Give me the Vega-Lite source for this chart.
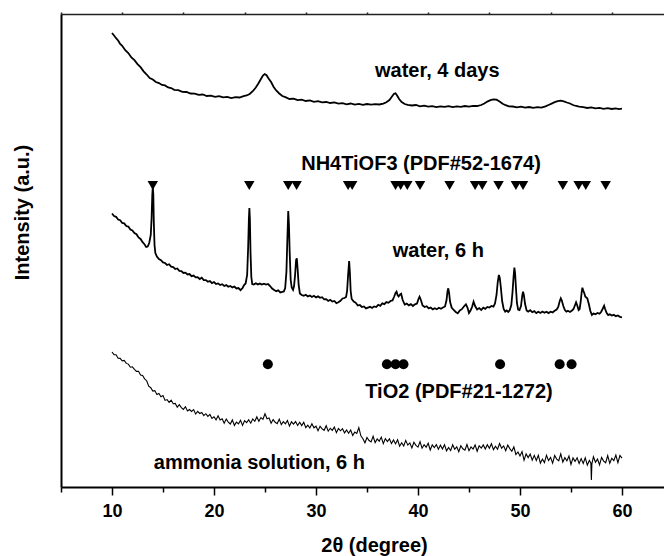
{
  "$schema": "https://vega.github.io/schema/vega-lite/v6.json",
  "width": 603,
  "height": 473,
  "autosize": {"type": "none"},
  "padding": {"left": 61, "top": 14, "right": 0, "bottom": 69},
  "background": "white",
  "config": {
    "view": {"stroke": null},
    "font": "Liberation Sans",
    "axis": {"grid": false}
  },
  "resolve": {"axis": {"x": "independent"}},
  "datasets": {
    "w4d": [
      {"t":10.0,"i":454.0},{"t":10.2,"i":451.5},{"t":10.4,"i":448.8},{"t":10.6,"i":446.5},{"t":10.8,"i":443.0},
      {"t":11.0,"i":441.2},{"t":11.3,"i":436.8},{"t":11.6,"i":434.0},{"t":11.9,"i":429.6},{"t":12.2,"i":426.8},
      {"t":12.5,"i":422.9},{"t":12.8,"i":419.8},{"t":13.1,"i":415.6},{"t":13.4,"i":412.5},{"t":13.7,"i":409.0},
      {"t":14.0,"i":407.5},{"t":14.3,"i":405.0},{"t":14.6,"i":403.9},{"t":14.9,"i":402.0},{"t":15.2,"i":401.6},
      {"t":15.5,"i":399.5},{"t":15.8,"i":399.0},{"t":16.1,"i":397.2},{"t":16.5,"i":396.8},{"t":16.9,"i":395.2},
      {"t":17.3,"i":395.0},{"t":17.7,"i":393.5},{"t":18.1,"i":393.4},{"t":18.5,"i":392.2},{"t":18.9,"i":392.5},
      {"t":19.3,"i":391.0},{"t":19.7,"i":391.4},{"t":20.1,"i":390.2},{"t":20.5,"i":390.8},{"t":20.9,"i":389.6},
      {"t":21.3,"i":390.1},{"t":21.7,"i":388.9},{"t":22.1,"i":389.8},{"t":22.5,"i":389.5},{"t":22.9,"i":390.8},
      {"t":23.2,"i":391.5},{"t":23.5,"i":393.0},{"t":23.8,"i":395.8},{"t":24.1,"i":399.5},{"t":24.35,"i":403.5},
      {"t":24.6,"i":408.0},{"t":24.8,"i":411.5},{"t":24.97,"i":413.0},{"t":25.15,"i":411.8},{"t":25.35,"i":408.5},
      {"t":25.6,"i":405.0},{"t":25.85,"i":400.0},{"t":26.1,"i":396.5},{"t":26.4,"i":393.5},{"t":26.7,"i":391.0},
      {"t":27.0,"i":389.8},{"t":27.4,"i":388.0},{"t":27.8,"i":388.4},{"t":28.2,"i":386.9},{"t":28.6,"i":387.3},
      {"t":29.0,"i":386.0},{"t":29.4,"i":386.6},{"t":29.8,"i":385.2},{"t":30.2,"i":385.8},{"t":30.6,"i":384.6},
      {"t":31.0,"i":385.0},{"t":31.4,"i":384.0},{"t":31.8,"i":384.6},{"t":32.2,"i":383.4},{"t":32.6,"i":383.9},
      {"t":33.0,"i":382.7},{"t":33.4,"i":383.5},{"t":33.8,"i":382.4},{"t":34.2,"i":383.1},{"t":34.6,"i":382.2},
      {"t":35.0,"i":383.0},{"t":35.4,"i":382.4},{"t":35.8,"i":382.9},{"t":36.2,"i":382.5},{"t":36.6,"i":383.4},
      {"t":36.9,"i":384.8},{"t":37.2,"i":387.0},{"t":37.45,"i":390.5},{"t":37.65,"i":393.2},{"t":37.8,"i":393.7},
      {"t":37.95,"i":391.5},{"t":38.15,"i":388.0},{"t":38.4,"i":385.0},{"t":38.7,"i":383.0},{"t":39.0,"i":382.2},
      {"t":39.4,"i":381.5},{"t":39.8,"i":382.0},{"t":40.2,"i":380.6},{"t":40.6,"i":381.3},{"t":41.0,"i":380.3},
      {"t":41.4,"i":380.9},{"t":41.8,"i":379.8},{"t":42.2,"i":380.6},{"t":42.6,"i":380.1},{"t":43.0,"i":380.9},
      {"t":43.4,"i":379.9},{"t":43.8,"i":380.7},{"t":44.2,"i":380.2},{"t":44.6,"i":381.0},{"t":45.0,"i":380.4},
      {"t":45.4,"i":381.2},{"t":45.8,"i":381.0},{"t":46.2,"i":382.0},{"t":46.5,"i":383.5},{"t":46.8,"i":385.4},
      {"t":47.1,"i":386.8},{"t":47.4,"i":387.6},{"t":47.7,"i":387.3},{"t":48.0,"i":385.5},{"t":48.3,"i":383.2},
      {"t":48.6,"i":381.8},{"t":48.9,"i":380.6},{"t":49.3,"i":380.5},{"t":49.7,"i":379.7},{"t":50.1,"i":380.3},
      {"t":50.5,"i":379.4},{"t":50.9,"i":380.0},{"t":51.3,"i":379.2},{"t":51.7,"i":379.8},{"t":52.1,"i":379.4},
      {"t":52.5,"i":380.6},{"t":52.8,"i":382.0},{"t":53.1,"i":383.4},{"t":53.4,"i":384.8},{"t":53.7,"i":385.8},
      {"t":54.0,"i":386.3},{"t":54.3,"i":385.7},{"t":54.6,"i":384.5},{"t":54.9,"i":383.5},{"t":55.2,"i":382.0},
      {"t":55.5,"i":381.0},{"t":55.8,"i":380.4},{"t":56.2,"i":379.9},{"t":56.6,"i":379.0},{"t":57.0,"i":379.6},
      {"t":57.4,"i":378.7},{"t":57.8,"i":379.1},{"t":58.2,"i":378.2},{"t":58.6,"i":378.8},{"t":59.0,"i":378.0},
      {"t":59.4,"i":378.6},{"t":59.7,"i":377.9},{"t":60.0,"i":378.3}
    ],
    "w6h": [
      {"t":10.0,"i":273.5},{"t":10.2,"i":271.0},{"t":10.4,"i":270.2},{"t":10.6,"i":267.5},{"t":10.8,"i":266.8},
      {"t":11.0,"i":264.0},{"t":11.2,"i":263.6},{"t":11.4,"i":261.0},{"t":11.6,"i":260.4},{"t":11.8,"i":257.5},
      {"t":12.0,"i":256.6},{"t":12.2,"i":254.0},{"t":12.4,"i":252.8},{"t":12.6,"i":249.5},{"t":12.8,"i":248.0},
      {"t":13.0,"i":244.8},{"t":13.2,"i":242.5},{"t":13.35,"i":240.0},{"t":13.5,"i":240.5},{"t":13.65,"i":244.0},
      {"t":13.8,"i":252.0},{"t":13.88,"i":268.0},{"t":13.95,"i":292.0},{"t":14.0,"i":300.0},{"t":14.05,"i":293.0},
      {"t":14.1,"i":265.0},{"t":14.17,"i":242.0},{"t":14.25,"i":234.0},{"t":14.4,"i":230.5},{"t":14.6,"i":228.0},
      {"t":14.8,"i":226.9},{"t":15.0,"i":224.6},{"t":15.2,"i":224.0},{"t":15.4,"i":222.0},{"t":15.6,"i":222.8},
      {"t":15.8,"i":220.4},{"t":16.0,"i":219.9},{"t":16.2,"i":218.0},{"t":16.4,"i":218.5},{"t":16.6,"i":216.2},
      {"t":16.8,"i":216.0},{"t":17.0,"i":214.0},{"t":17.2,"i":214.4},{"t":17.4,"i":212.5},{"t":17.6,"i":212.9},
      {"t":17.8,"i":210.8},{"t":18.0,"i":211.4},{"t":18.2,"i":209.6},{"t":18.4,"i":209.9},{"t":18.6,"i":208.0},
      {"t":18.8,"i":209.3},{"t":19.0,"i":207.0},{"t":19.2,"i":206.9},{"t":19.4,"i":205.2},{"t":19.6,"i":206.0},
      {"t":19.8,"i":203.9},{"t":20.0,"i":205.0},{"t":20.2,"i":203.0},{"t":20.4,"i":203.6},{"t":20.6,"i":202.0},
      {"t":20.8,"i":202.8},{"t":21.0,"i":201.0},{"t":21.2,"i":201.9},{"t":21.4,"i":200.2},{"t":21.6,"i":201.0},
      {"t":21.8,"i":199.6},{"t":22.0,"i":200.5},{"t":22.2,"i":198.5},{"t":22.4,"i":198.9},{"t":22.6,"i":196.8},
      {"t":22.8,"i":199.0},{"t":22.95,"i":202.0},{"t":23.1,"i":203.5},{"t":23.25,"i":212.0},{"t":23.35,"i":240.0},
      {"t":23.42,"i":268.0},{"t":23.47,"i":279.0},{"t":23.52,"i":268.0},{"t":23.58,"i":235.0},{"t":23.66,"i":210.0},
      {"t":23.75,"i":203.0},{"t":23.9,"i":202.5},{"t":24.1,"i":203.8},{"t":24.3,"i":202.6},{"t":24.5,"i":203.4},
      {"t":24.7,"i":202.4},{"t":24.9,"i":203.3},{"t":25.1,"i":202.5},{"t":25.3,"i":203.0},{"t":25.5,"i":201.0},
      {"t":25.7,"i":198.5},{"t":25.9,"i":197.0},{"t":26.1,"i":195.8},{"t":26.3,"i":196.6},{"t":26.5,"i":194.6},
      {"t":26.7,"i":195.2},{"t":26.85,"i":195.6},{"t":26.98,"i":199.0},{"t":27.1,"i":215.0},{"t":27.2,"i":250.0},
      {"t":27.28,"i":276.0},{"t":27.35,"i":262.0},{"t":27.42,"i":235.0},{"t":27.52,"i":207.0},{"t":27.62,"i":199.5},
      {"t":27.75,"i":197.2},{"t":27.85,"i":201.0},{"t":27.95,"i":212.0},{"t":28.05,"i":227.0},{"t":28.12,"i":228.7},
      {"t":28.2,"i":218.0},{"t":28.3,"i":202.0},{"t":28.42,"i":193.5},{"t":28.6,"i":192.0},{"t":28.8,"i":191.3},
      {"t":29.0,"i":192.2},{"t":29.2,"i":190.6},{"t":29.4,"i":191.5},{"t":29.6,"i":190.0},{"t":29.8,"i":191.2},
      {"t":30.0,"i":189.6},{"t":30.2,"i":190.6},{"t":30.4,"i":189.2},{"t":30.6,"i":189.8},{"t":30.8,"i":187.6},
      {"t":31.0,"i":187.9},{"t":31.2,"i":186.0},{"t":31.4,"i":187.2},{"t":31.6,"i":185.4},{"t":31.8,"i":186.0},
      {"t":32.0,"i":183.8},{"t":32.2,"i":184.7},{"t":32.4,"i":186.2},{"t":32.6,"i":188.5},{"t":32.8,"i":189.0},
      {"t":32.95,"i":190.0},{"t":33.05,"i":196.0},{"t":33.15,"i":212.0},{"t":33.25,"i":226.0},{"t":33.32,"i":215.0},
      {"t":33.4,"i":196.0},{"t":33.5,"i":188.0},{"t":33.7,"i":185.5},{"t":33.9,"i":184.2},{"t":34.1,"i":181.5},
      {"t":34.3,"i":182.0},{"t":34.5,"i":180.0},{"t":34.7,"i":180.6},{"t":34.9,"i":178.6},{"t":35.1,"i":179.4},
      {"t":35.3,"i":180.2},{"t":35.5,"i":179.0},{"t":35.7,"i":180.6},{"t":35.9,"i":180.0},{"t":36.1,"i":182.2},
      {"t":36.3,"i":181.2},{"t":36.5,"i":183.6},{"t":36.7,"i":182.8},{"t":36.9,"i":184.9},{"t":37.1,"i":184.2},
      {"t":37.3,"i":186.0},{"t":37.5,"i":186.6},{"t":37.65,"i":190.0},{"t":37.8,"i":194.0},{"t":37.9,"i":195.3},
      {"t":38.0,"i":192.0},{"t":38.1,"i":190.5},{"t":38.25,"i":192.5},{"t":38.35,"i":193.2},{"t":38.5,"i":187.0},
      {"t":38.7,"i":182.5},{"t":38.9,"i":183.4},{"t":39.1,"i":181.6},{"t":39.3,"i":182.8},{"t":39.5,"i":181.0},
      {"t":39.7,"i":182.6},{"t":39.9,"i":183.5},{"t":40.05,"i":188.0},{"t":40.15,"i":190.3},{"t":40.27,"i":187.5},
      {"t":40.45,"i":181.5},{"t":40.65,"i":180.0},{"t":40.85,"i":180.8},{"t":41.05,"i":178.6},{"t":41.25,"i":179.5},
      {"t":41.45,"i":177.6},{"t":41.65,"i":178.8},{"t":41.85,"i":177.8},{"t":42.05,"i":179.2},{"t":42.25,"i":178.3},
      {"t":42.45,"i":179.5},{"t":42.65,"i":180.5},{"t":42.8,"i":187.0},{"t":42.9,"i":196.0},{"t":42.97,"i":198.7},
      {"t":43.05,"i":194.0},{"t":43.15,"i":185.0},{"t":43.3,"i":179.4},{"t":43.5,"i":177.0},{"t":43.7,"i":175.0},
      {"t":43.9,"i":173.8},{"t":44.1,"i":176.5},{"t":44.3,"i":177.8},{"t":44.5,"i":180.5},{"t":44.7,"i":182.7},
      {"t":44.85,"i":179.5},{"t":45.0,"i":174.0},{"t":45.15,"i":176.5},{"t":45.3,"i":180.0},{"t":45.45,"i":185.3},
      {"t":45.6,"i":181.0},{"t":45.8,"i":177.6},{"t":46.0,"i":178.9},{"t":46.2,"i":177.0},{"t":46.4,"i":179.3},
      {"t":46.6,"i":178.2},{"t":46.8,"i":180.1},{"t":47.0,"i":179.5},{"t":47.2,"i":181.0},{"t":47.4,"i":180.3},
      {"t":47.55,"i":183.5},{"t":47.7,"i":192.0},{"t":47.82,"i":205.0},{"t":47.93,"i":212.0},{"t":48.02,"i":209.0},
      {"t":48.12,"i":200.0},{"t":48.25,"i":186.0},{"t":48.4,"i":178.0},{"t":48.55,"i":175.3},{"t":48.7,"i":176.5},
      {"t":48.85,"i":175.0},{"t":49.0,"i":177.0},{"t":49.15,"i":182.0},{"t":49.27,"i":195.0},{"t":49.37,"i":210.0},
      {"t":49.45,"i":219.5},{"t":49.52,"i":214.0},{"t":49.6,"i":200.0},{"t":49.7,"i":184.0},{"t":49.82,"i":177.5},
      {"t":49.95,"i":177.0},{"t":50.1,"i":181.0},{"t":50.22,"i":191.0},{"t":50.3,"i":195.3},{"t":50.38,"i":192.0},
      {"t":50.5,"i":183.0},{"t":50.65,"i":176.5},{"t":50.8,"i":175.3},{"t":51.0,"i":176.8},{"t":51.2,"i":174.8},
      {"t":51.4,"i":175.8},{"t":51.6,"i":173.9},{"t":51.8,"i":175.2},{"t":52.0,"i":174.0},{"t":52.2,"i":175.5},
      {"t":52.4,"i":174.2},{"t":52.6,"i":175.3},{"t":52.8,"i":173.9},{"t":53.0,"i":175.3},{"t":53.2,"i":174.6},
      {"t":53.4,"i":176.2},{"t":53.6,"i":177.5},{"t":53.75,"i":180.0},{"t":53.9,"i":186.0},{"t":54.0,"i":188.7},
      {"t":54.1,"i":186.5},{"t":54.25,"i":181.0},{"t":54.4,"i":177.0},{"t":54.55,"i":175.3},{"t":54.7,"i":176.2},
      {"t":54.9,"i":175.0},{"t":55.1,"i":176.5},{"t":55.25,"i":178.0},{"t":55.4,"i":182.0},{"t":55.5,"i":184.7},
      {"t":55.6,"i":182.0},{"t":55.75,"i":177.0},{"t":55.85,"i":178.0},{"t":55.95,"i":185.0},{"t":56.05,"i":195.0},
      {"t":56.12,"i":199.3},{"t":56.2,"i":196.5},{"t":56.3,"i":194.0},{"t":56.4,"i":190.5},{"t":56.5,"i":189.5},
      {"t":56.6,"i":188.7},{"t":56.75,"i":183.0},{"t":56.9,"i":176.0},{"t":57.05,"i":172.0},{"t":57.2,"i":173.5},
      {"t":57.4,"i":172.8},{"t":57.6,"i":174.0},{"t":57.8,"i":173.2},{"t":57.95,"i":175.0},{"t":58.1,"i":178.0},
      {"t":58.25,"i":181.3},{"t":58.35,"i":178.0},{"t":58.5,"i":174.0},{"t":58.65,"i":172.0},{"t":58.8,"i":172.8},
      {"t":59.0,"i":171.4},{"t":59.2,"i":172.2},{"t":59.4,"i":170.8},{"t":59.6,"i":171.5},{"t":59.8,"i":170.2},
      {"t":60.0,"i":169.7}
    ],
    "amm": [
      {"t":10.0,"i":135.0},{"t":10.2,"i":132.3},{"t":10.4,"i":132.3},{"t":10.6,"i":128.8},{"t":10.8,"i":128.6},
      {"t":11.0,"i":126.1},{"t":11.2,"i":126.6},{"t":11.4,"i":123.6},{"t":11.6,"i":122.9},{"t":11.8,"i":119.8},
      {"t":12.0,"i":120.2},{"t":12.2,"i":117.7},{"t":12.4,"i":115.6},{"t":12.6,"i":115.7},{"t":12.8,"i":111.9},
      {"t":13.0,"i":111.5},{"t":13.2,"i":108.2},{"t":13.4,"i":106.3},{"t":13.6,"i":100.8},{"t":13.8,"i":99.3},
      {"t":14.0,"i":95.9},{"t":14.2,"i":96.4},{"t":14.4,"i":92.5},{"t":14.6,"i":93.6},{"t":14.8,"i":90.2},
      {"t":15.0,"i":91.5},{"t":15.2,"i":86.6},{"t":15.4,"i":87.4},{"t":15.6,"i":84.7},{"t":15.8,"i":86.9},
      {"t":16.0,"i":83.3},{"t":16.2,"i":83.6},{"t":16.4,"i":79.8},{"t":16.6,"i":82.3},{"t":16.8,"i":79.4},
      {"t":17.0,"i":77.6},{"t":17.2,"i":80.3},{"t":17.4,"i":76.0},{"t":17.6,"i":77.5},{"t":17.8,"i":75.6},
      {"t":18.0,"i":77.4},{"t":18.2,"i":73.0},{"t":18.4,"i":75.6},{"t":18.6,"i":73.5},{"t":18.8,"i":74.6},
      {"t":19.0,"i":71.4},{"t":19.2,"i":73.3},{"t":19.4,"i":70.6},{"t":19.6,"i":72.6},{"t":19.8,"i":68.5},
      {"t":20.0,"i":70.2},{"t":20.2,"i":67.1},{"t":20.4,"i":71.3},{"t":20.6,"i":67.0},{"t":20.8,"i":68.3},
      {"t":21.0,"i":63.7},{"t":21.2,"i":68.0},{"t":21.4,"i":64.9},{"t":21.6,"i":63.0},{"t":21.8,"i":67.1},
      {"t":22.0,"i":61.6},{"t":22.2,"i":64.9},{"t":22.4,"i":63.2},{"t":22.6,"i":66.8},{"t":22.8,"i":61.6},
      {"t":23.0,"i":66.3},{"t":23.2,"i":64.4},{"t":23.4,"i":67.2},{"t":23.6,"i":63.8},{"t":23.8,"i":68.0},
      {"t":24.0,"i":65.7},{"t":24.2,"i":70.1},{"t":24.4,"i":65.8},{"t":24.6,"i":69.5},{"t":24.8,"i":67.7},
      {"t":25.0,"i":73.2},{"t":25.2,"i":68.3},{"t":25.4,"i":69.0},{"t":25.6,"i":63.8},{"t":25.8,"i":67.4},
      {"t":26.0,"i":64.7},{"t":26.2,"i":63.4},{"t":26.4,"i":67.9},{"t":26.6,"i":62.4},{"t":26.8,"i":65.3},
      {"t":27.0,"i":63.2},{"t":27.2,"i":66.5},{"t":27.4,"i":60.9},{"t":27.6,"i":65.2},{"t":27.8,"i":62.9},
      {"t":28.0,"i":65.4},{"t":28.2,"i":61.5},{"t":28.4,"i":64.8},{"t":28.6,"i":61.4},{"t":28.8,"i":64.7},
      {"t":29.0,"i":59.3},{"t":29.2,"i":61.9},{"t":29.4,"i":59.0},{"t":29.6,"i":63.3},{"t":29.8,"i":59.2},
      {"t":30.0,"i":60.8},{"t":30.2,"i":56.3},{"t":30.4,"i":60.8},{"t":30.6,"i":58.1},{"t":30.8,"i":56.7},
      {"t":31.0,"i":61.3},{"t":31.2,"i":55.8},{"t":31.4,"i":58.7},{"t":31.6,"i":56.6},{"t":31.8,"i":59.9},
      {"t":32.0,"i":54.3},{"t":32.2,"i":58.6},{"t":32.4,"i":56.2},{"t":32.6,"i":58.3},{"t":32.8,"i":54.1},
      {"t":33.0,"i":57.1},{"t":33.2,"i":53.7},{"t":33.4,"i":57.0},{"t":33.6,"i":51.5},{"t":33.8,"i":54.9},
      {"t":34.0,"i":53.5},{"t":34.2,"i":59.4},{"t":34.4,"i":51.2},{"t":34.6,"i":48.2},{"t":34.8,"i":44.2},
      {"t":35.0,"i":49.5},{"t":35.2,"i":46.5},{"t":35.4,"i":45.1},{"t":35.6,"i":50.7},{"t":35.8,"i":44.4},
      {"t":36.0,"i":48.1},{"t":36.2,"i":45.8},{"t":36.4,"i":49.9},{"t":36.6,"i":43.4},{"t":36.8,"i":48.4},
      {"t":37.0,"i":45.5},{"t":37.2,"i":48.2},{"t":37.4,"i":43.4},{"t":37.6,"i":47.1},{"t":37.8,"i":43.1},
      {"t":38.0,"i":47.2},{"t":38.2,"i":40.8},{"t":38.4,"i":44.2},{"t":38.6,"i":41.0},{"t":38.8,"i":46.6},
      {"t":39.0,"i":41.9},{"t":39.2,"i":44.1},{"t":39.4,"i":39.1},{"t":39.6,"i":44.8},{"t":39.8,"i":41.6},
      {"t":40.0,"i":39.9},{"t":40.2,"i":45.3},{"t":40.4,"i":38.8},{"t":40.6,"i":42.3},{"t":40.8,"i":39.8},
      {"t":41.0,"i":43.7},{"t":41.2,"i":37.0},{"t":41.4,"i":42.2},{"t":41.6,"i":39.5},{"t":41.8,"i":42.4},
      {"t":42.0,"i":37.8},{"t":42.2,"i":41.8},{"t":42.4,"i":38.0},{"t":42.6,"i":42.3},{"t":42.8,"i":36.1},
      {"t":43.0,"i":39.5},{"t":43.2,"i":36.4},{"t":43.4,"i":42.2},{"t":43.6,"i":37.7},{"t":43.8,"i":40.1},
      {"t":44.0,"i":35.3},{"t":44.2,"i":41.2},{"t":44.4,"i":38.2},{"t":44.6,"i":36.8},{"t":44.8,"i":42.5},
      {"t":45.0,"i":36.3},{"t":45.2,"i":40.1},{"t":45.4,"i":37.9},{"t":45.6,"i":42.1},{"t":45.8,"i":35.8},
      {"t":46.0,"i":41.3},{"t":46.2,"i":38.9},{"t":46.4,"i":42.1},{"t":46.6,"i":37.9},{"t":46.8,"i":42.2},
      {"t":47.0,"i":38.7},{"t":47.2,"i":43.3},{"t":47.4,"i":37.4},{"t":47.6,"i":40.8},{"t":47.8,"i":37.7},
      {"t":48.0,"i":43.4},{"t":48.2,"i":38.8},{"t":48.4,"i":41.1},{"t":48.6,"i":36.2},{"t":48.8,"i":42.0},
      {"t":49.0,"i":38.4},{"t":49.2,"i":35.7},{"t":49.4,"i":40.1},{"t":49.6,"i":32.5},{"t":49.8,"i":35.0},
      {"t":50.0,"i":31.1},{"t":50.2,"i":35.4},{"t":50.4,"i":26.8},{"t":50.6,"i":33.1},{"t":50.8,"i":29.4},
      {"t":51.0,"i":32.9},{"t":51.2,"i":26.9},{"t":51.4,"i":31.6},{"t":51.6,"i":26.6},{"t":51.8,"i":31.8},
      {"t":52.0,"i":23.9},{"t":52.2,"i":27.9},{"t":52.4,"i":24.4},{"t":52.6,"i":31.8},{"t":52.8,"i":26.4},
      {"t":53.0,"i":29.6},{"t":53.2,"i":23.9},{"t":53.4,"i":31.5},{"t":53.6,"i":27.9},{"t":53.8,"i":26.3},
      {"t":54.0,"i":33.1},{"t":54.2,"i":24.9},{"t":54.4,"i":29.3},{"t":54.6,"i":26.1},{"t":54.8,"i":30.9},
      {"t":55.0,"i":22.6},{"t":55.2,"i":29.1},{"t":55.4,"i":25.6},{"t":55.6,"i":29.2},{"t":55.8,"i":23.5},
      {"t":56.0,"i":28.4},{"t":56.2,"i":23.6},{"t":56.4,"i":29.3},{"t":56.6,"i":21.9},{"t":56.8,"i":26.5},
      {"t":56.95,"i":24.0},{"t":57.0,"i":7.0},{"t":57.05,"i":23.0},{"t":57.2,"i":30.3},{"t":57.4,"i":24.8},
      {"t":57.6,"i":27.9},{"t":57.8,"i":22.1},{"t":58.0,"i":29.6},{"t":58.2,"i":25.9},{"t":58.4,"i":24.3},
      {"t":58.6,"i":31.5},{"t":58.8,"i":23.7},{"t":59.0,"i":28.8},{"t":59.2,"i":26.4},{"t":59.4,"i":32.0},
      {"t":59.6,"i":24.3},{"t":59.8,"i":31.5},{"t":60.0,"i":28.8}
    ],
    "nh4": [
      {"t":14.0,"i":301.5},{"t":23.46,"i":301.5},{"t":27.28,"i":301.5},{"t":28.1,"i":301.5},
      {"t":33.15,"i":301.5},{"t":33.55,"i":301.5},{"t":37.8,"i":301.5},{"t":38.3,"i":301.5},
      {"t":38.95,"i":301.5},{"t":40.2,"i":301.5},{"t":43.1,"i":301.5},{"t":45.6,"i":301.5},
      {"t":46.3,"i":301.5},{"t":47.9,"i":301.5},{"t":49.6,"i":301.5},{"t":50.3,"i":301.5},
      {"t":54.2,"i":301.5},{"t":55.75,"i":301.5},{"t":56.45,"i":301.5},{"t":58.4,"i":301.5}
    ],
    "tio2": [
      {"t":25.28,"i":122.7},{"t":36.95,"i":122.7},{"t":37.8,"i":122.7},{"t":38.58,"i":122.7},
      {"t":48.05,"i":122.7},{"t":53.89,"i":122.7},{"t":55.06,"i":122.7}
    ],
    "labels": [
      {"t":41.89,"i":410,"label":"water, 4 days"},
      {"t":40.3,"i":317.5,"label":"NH4TiOF3 (PDF#52-1674)"},
      {"t":41.99,"i":229.7,"label":"water, 6 h"},
      {"t":44.02,"i":88.7,"label":"TiO2 (PDF#21-1272)"},
      {"t":24.45,"i":18.5,"label":"ammonia solution, 6 h"}
    ]
  },
  "encoding": {
    "x": {"field": "t", "type": "quantitative", "scale": {"domain": [5, 64.12], "nice": false, "zero": false}, "axis": null},
    "y": {
      "field": "i", "type": "quantitative",
      "scale": {"domain": [0, 473], "nice": false, "zero": false},
      "axis": {
        "orient": "left", "ticks": false, "labels": false, "domain": true,
        "domainWidth": 2, "domainColor": "black",
        "title": "Intensity (a.u.)",
        "titleFont": "Liberation Sans", "titleFontSize": 20, "titleFontWeight": "bold", "titleColor": "black",
        "titleAngle": -90, "titleX": -33, "titleY": 198, "titleAlign": "center", "titleBaseline": "alphabetic"
      }
    }
  },
  "layer": [
    {
      "data": {"name": "w4d"},
      "mark": {"type": "line", "color": "black", "strokeWidth": 1.8, "clip": true},
      "encoding": {
        "x": {
          "field": "t", "type": "quantitative",
          "scale": {"domain": [5, 64.12], "nice": false, "zero": false},
          "axis": {
            "orient": "bottom",
            "values": [10, 20, 30, 40, 50, 60],
            "tickSize": 8, "tickWidth": 1.5, "tickColor": "black",
            "domainWidth": 2, "domainColor": "black",
            "labelFont": "Liberation Sans", "labelFontSize": 18, "labelFontWeight": "bold", "labelColor": "black",
            "labelBaseline": "top", "labelPadding": 7, "labelFlush": false, "labelOverlap": false,
            "title": "2θ (degree)",
            "titleFont": "Liberation Sans", "titleFontSize": 20, "titleFontWeight": "bold", "titleColor": "black",
            "titleX": 313, "titleY": 64.7, "titleAlign": "center", "titleBaseline": "alphabetic"
          }
        }
      }
    },
    {
      "data": {"name": "w6h"},
      "mark": {"type": "line", "color": "black", "strokeWidth": 1.8, "clip": true},
      "encoding": {
        "x": {
          "field": "t", "type": "quantitative",
          "scale": {"domain": [5, 64.12], "nice": false, "zero": false},
          "axis": {
            "orient": "top",
            "values": [5, 11, 17, 23, 29, 35, 41, 47, 53, 59],
            "labels": false, "tickSize": 2, "tickWidth": 1.5, "tickColor": "#222222",
            "domainWidth": 1.6, "domainColor": "#222222", "title": null
          }
        }
      }
    },
    {
      "data": {"name": "amm"},
      "mark": {"type": "line", "color": "black", "strokeWidth": 1.1, "clip": true},
      "encoding": {
        "x": {
          "field": "t", "type": "quantitative",
          "scale": {"domain": [5, 64.12], "nice": false, "zero": false},
          "axis": {
            "orient": "bottom",
            "values": [5, 15, 25, 35, 45, 55],
            "labels": false, "domain": false,
            "tickSize": 5, "tickWidth": 1.5, "tickColor": "black", "title": null
          }
        }
      }
    },
    {
      "data": {"name": "nh4"},
      "mark": {"type": "point", "shape": "triangle-down", "filled": true, "color": "black", "opacity": 1, "size": 110}
    },
    {
      "data": {"name": "tio2"},
      "mark": {"type": "point", "shape": "circle", "filled": true, "color": "black", "opacity": 1, "size": 100}
    },
    {
      "data": {"name": "labels"},
      "mark": {"type": "text", "font": "Liberation Sans", "fontSize": 20, "fontWeight": "bold", "color": "black", "align": "center", "baseline": "alphabetic"},
      "encoding": {"text": {"field": "label", "type": "nominal"}}
    }
  ]
}
